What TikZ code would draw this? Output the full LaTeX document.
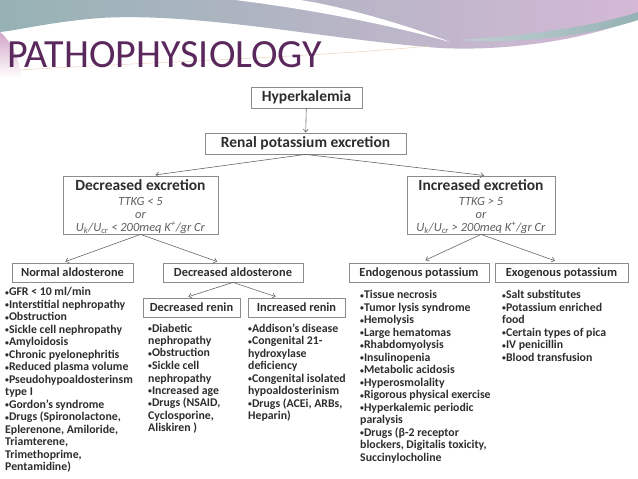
\documentclass[tikz,border=0pt]{standalone}
\usepackage{fontspec}
\setmainfont{Carlito}
\usetikzlibrary{arrows.meta,positioning,calc}

\definecolor{titlepurple}{RGB}{90,40,92}
\definecolor{boxgray}{RGB}{140,140,140}
\definecolor{textdark}{RGB}{45,45,45}
\definecolor{notegray}{RGB}{95,95,95}
\definecolor{bandteal}{RGB}{150,178,180}
\definecolor{bandpink}{RGB}{212,184,214}

\newcommand{\bul}{\raisebox{0.12ex}{\scalebox{0.65}{•}}}

\begin{document}
\begin{tikzpicture}[x=1pt,y=-1pt,>={Straight Barb[length=3pt,width=5pt]},
  box/.style={draw=boxgray,line width=0.8pt,inner sep=0pt,text=textdark},
  topbox/.style={box,minimum height=21pt,font=\bfseries\fontsize{15.5}{17}\selectfont},
  excbox/.style={box,minimum height=58pt},
  exctitle/.style={inner sep=0pt,text=textdark,font=\bfseries\fontsize{15.5}{17}\selectfont},
  note/.style={inner sep=0pt,align=center,text=notegray,font=\itshape\fontsize{12.5}{13}\selectfont},
  subbox/.style={box,minimum height=19pt,font=\bfseries\fontsize{12.4}{13}\selectfont},
  lst/.style={inner sep=0pt,anchor=north west,align=left,text=textdark,font=\bfseries\fontsize{11.8}{12.5}\selectfont},
  arr/.style={->,draw=black!60,line width=0.6pt}]
  \useasboundingbox (0,0) rectangle (638,479);
  % slide background
  \shade[left color=bandteal,right color=bandpink]
    (0,0) -- (638,0) -- (638,18) .. controls (600,35) and (520,52) .. (440,48)
    .. controls (330,40) and (200,12) .. (100,18) .. controls (50,22) and (20,30) .. (0,32) -- cycle;
  \fill[white] (235,0) .. controls (300,8) and (380,22) .. (450,42)
    .. controls (400,22) and (330,4) .. (300,0) -- cycle;
  \shade[left color=bandteal!60,right color=bandteal] (460,40) .. controls (520,36) and (590,28) .. (638,12)
    -- (638,20) .. controls (590,36) and (520,44) .. (460,40) -- cycle;
  \shade[top color=bandpink!90!purple,bottom color=white] (0,32) .. controls (10,40) and (18,55) .. (22,78) -- (0,78) -- cycle;
  \draw[brown!35,line width=0.5pt] (20,70) .. controls (150,62) and (300,58) .. (430,46);
  \node[anchor=base west,inner sep=0pt,text=titlepurple,font=\fontsize{40}{42}\selectfont] (title) at (7,67) {PATHOPHYSIOLOGY};

  % top of the tree
  \node[topbox,minimum width=111pt] (hyper) at (306.5,97.5) {Hyperkalemia};
  \node[topbox,minimum width=201pt] (renal) at (305.5,143.5) {Renal potassium excretion};
  \draw[arr] (hyper) -- (renal);

  % decreased excretion
  \node[excbox,minimum width=155pt] (decex) at (140.5,205) {};
  \node[exctitle,below=4pt of decex.north] (decexT) {Decreased excretion};
  \node[note,below=6pt of decexT] (decexN) {TTKG < 5\\ or\\ U\textsubscript{k}/U\textsubscript{cr} < 200meq K\textsuperscript{+}/gr Cr};
  % increased excretion
  \node[excbox,minimum width=148pt] (incex) at (481,205) {};
  \node[exctitle,below=4pt of incex.north] (incexT) {Increased excretion};
  \node[note,below=6pt of incexT] (incexN) {TTKG > 5\\ or\\ U\textsubscript{k}/U\textsubscript{cr} > 200meq K\textsuperscript{+}/gr Cr};
  \draw[arr,shorten >=5pt] (renal.south) -- ([xshift=10pt]decex.north);
  \draw[arr,shorten >=1pt] (renal.south) -- ([xshift=4pt]incex.north);

  % second level
  \node[subbox,minimum width=121pt] (normal) at (72.5,272.5) {Normal aldosterone};
  \node[subbox,minimum width=140pt] (decald) at (233,272.5) {Decreased aldosterone};
  \node[subbox,minimum width=140pt] (endo) at (419,273) {Endogenous potassium};
  \node[subbox,minimum width=133pt] (exo) at (561.5,273) {Exogenous potassium};
  \draw[arr,shorten >=3pt] (decex.south) -- ([xshift=-10pt]normal.north);
  \draw[arr,shorten >=3pt] (decex.south) -- ([xshift=-13pt]decald.north);
  \draw[arr,shorten >=7pt] (incex.south) -- (endo.north);
  \draw[arr,shorten >=7pt] (incex.south) -- (exo.north);

  % renin
  \node[subbox,minimum width=97pt] (decren) at (191.5,307.5) {Decreased renin};
  \node[subbox,minimum width=97pt] (incren) at (296.5,307.5) {Increased renin};
  \draw[arr,shorten >=3pt] (decald.south) -- ([xshift=-6pt]decren.north);
  \draw[arr,shorten >=3pt] (decald.south) -- ([xshift=-18pt]incren.north);

  % causes
  \node[lst] (normalL) at (5,287.5) {\bul GFR < 10 ml/min\\ \bul Interstitial nephropathy\\ \bul Obstruction\\
    \bul Sickle cell nephropathy\\ \bul Amyloidosis\\ \bul Chronic pyelonephritis\\ \bul Reduced plasma volume\\
    \bul Pseudohypoaldosterinsm\\ type I\\ \bul Gordon’s syndrome\\ \bul Drugs (Spironolactone,\\
    Eplerenone, Amiloride,\\ Triamterene,\\ Trimethoprime,\\ Pentamidine)};
  \node[lst] (decrenL) at (148,323.5) {\bul Diabetic\\ nephropathy\\ \bul Obstruction\\ \bul Sickle cell\\ nephropathy\\
    \bul Increased age\\ \bul Drugs (NSAID,\\ Cyclosporine,\\ Aliskiren )};
  \node[lst] (increnL) at (248,323.5) {\bul Addison’s disease\\ \bul Congenital 21-\\ hydroxylase\\ deficiency\\
    \bul Congenital isolated\\ hypoaldosterinism\\ \bul Drugs (ACEi, ARBs,\\ Heparin)};
  \node[lst] (endoL) at (360,290.5) {\bul Tissue necrosis\\ \bul Tumor lysis syndrome\\ \bul Hemolysis\\ \bul Large hematomas\\
    \bul Rhabdomyolysis\\ \bul Insulinopenia\\ \bul Metabolic acidosis\\ \bul Hyperosmolality\\
    \bul Rigorous physical exercise\\ \bul Hyperkalemic periodic\\ paralysis\\ \bul Drugs (β-2 receptor\\
    blockers, Digitalis toxicity,\\ Succinylocholine};
  \node[lst] (exoL) at (502,290.5) {\bul Salt substitutes\\ \bul Potassium enriched\\ food\\
    \bul Certain types of pica\\ \bul IV penicillin\\ \bul Blood transfusion};
\end{tikzpicture}
\end{document}
